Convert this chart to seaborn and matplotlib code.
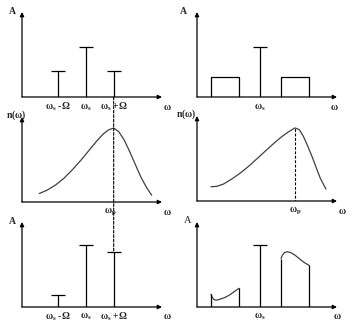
import matplotlib
matplotlib.use("Agg")
import matplotlib.pyplot as plt
from matplotlib.patches import ConnectionPatch
import seaborn as sns
import pandas as pd

sns.set_style("white")
plt.rcParams["font.family"] = ["Liberation Serif", "DejaVu Serif"]
plt.rcParams["mathtext.fontset"] = "custom"
plt.rcParams["mathtext.rm"] = "Liberation Serif:bold"
plt.rcParams["mathtext.it"] = "Liberation Serif:bold"
plt.rcParams["mathtext.bf"] = "Liberation Serif:bold"

# ---- data ----
w_s_left = 4.55
Omega = 2.0
am_freqs = [w_s_left - Omega, w_s_left, w_s_left + Omega]
am_amps = [0.31, 0.59, 0.31]
am_labels = [r"$\mathbf{\omega_s\ \text{-}\Omega}$", r"$\mathbf{\omega_s}$", r"$\mathbf{\omega_s\ \text{+}\Omega}$"]

w_s_right = 4.5
band_lo = [1.0, 3.0]
band_hi = [6.0, 8.0]
band_amp = 0.235
carrier_amp = 0.59

resp1_x = [1.24, 1.8, 2.4, 3.0, 3.6, 4.2, 4.8, 5.3, 5.8, 6.2, 6.55, 6.9, 7.3, 7.7, 8.1, 8.5, 8.9, 9.26]
resp1_y = [0.10, 0.14, 0.20, 0.28, 0.38, 0.49, 0.61, 0.71, 0.80, 0.85, 0.87, 0.83, 0.73, 0.59, 0.44, 0.29, 0.17, 0.08]
wp_left = 6.55

resp2_x = [1.0, 1.4, 1.9, 2.5, 3.1, 3.7, 4.3, 4.9, 5.5, 6.0, 6.5, 7.0, 7.3, 7.6, 7.9, 8.2, 8.5, 8.8, 9.21]
resp2_y = [0.168, 0.172, 0.20, 0.26, 0.33, 0.41, 0.50, 0.59, 0.68, 0.75, 0.81, 0.86, 0.84, 0.76, 0.65, 0.53, 0.40, 0.27, 0.14]
wp_right = 7.0

out_amps = [0.14, 0.73, 0.65]

lo_out_x = [1.0, 1.1, 1.2, 1.35, 1.5, 1.8, 2.1, 2.4, 2.7, 3.0]
lo_out_y = [0.15, 0.11, 0.09, 0.08, 0.085, 0.10, 0.12, 0.15, 0.185, 0.22]
hi_out_x = [6.0, 6.1, 6.25, 6.45, 6.7, 7.0, 7.3, 7.6, 8.0]
hi_out_y = [0.57, 0.61, 0.64, 0.65, 0.64, 0.61, 0.57, 0.53, 0.49]
carrier_out = 0.73

W, H = 363, 325
fig = plt.figure(figsize=(W / 100, H / 100), dpi=100)
fig.patch.set_facecolor("white")

FS = 7
CAP = 0.5
LW = 0.9
CURVE = "#404040"


def make_ax(ox, oy):
    ax = fig.add_axes([ox / W, (H - oy) / H, 140 / W, 85 / H])
    ax.set_xlim(0, 10)
    ax.set_ylim(0, 1)
    ax.axis("off")
    ax.patch.set_alpha(0)
    ax.annotate("", xy=(10, 0), xytext=(0, 0),
                arrowprops=dict(arrowstyle="-|>", lw=LW, color="black", mutation_scale=6,
                                shrinkA=0, shrinkB=0), annotation_clip=False)
    ax.annotate("", xy=(0, 1.0), xytext=(0, 0),
                arrowprops=dict(arrowstyle="-|>", lw=LW, color="black", mutation_scale=6,
                                shrinkA=0, shrinkB=0), annotation_clip=False)
    return ax


def txt(ax, x, y, s, ha="center", **kw):
    ax.text(x, y, s, ha=ha, va="center", fontsize=FS, fontweight="bold", clip_on=False, **kw)


def stems(ax, xs, ys):
    ax.vlines(xs, 0, ys, color="black", lw=LW)
    ax.hlines(ys, [x - CAP for x in xs], [x + CAP for x in xs], color="black", lw=LW)


def curve(ax, xs, ys):
    df = pd.DataFrame({"x": xs, "y": ys})
    sns.lineplot(data=df, x="x", y="y", ax=ax, color=CURVE, lw=0.9, sort=False)
    ax.set_xlim(0, 10); ax.set_ylim(0, 1); ax.axis("off")


# panel 1
ax1 = make_ax(22, 97)
stems(ax1, am_freqs, am_amps)
for f, lab in zip(am_freqs, am_labels):
    txt(ax1, f, -0.12, lab)
txt(ax1, -0.7, 1.0, "A")
txt(ax1, 10.35, -0.12, r"$\mathbf{\omega}$")

# panel 2
ax2 = make_ax(197, 97)
for lo, hi in [band_lo, band_hi]:
    ax2.plot([lo, lo, hi, hi], [0, band_amp, band_amp, 0], color="black", lw=LW)
stems(ax2, [w_s_right], [carrier_amp])
txt(ax2, w_s_right, -0.12, r"$\mathbf{\omega_s}$")
txt(ax2, -0.95, 1.0, "A")
txt(ax2, 9.8, -0.12, r"$\mathbf{\omega}$")

# panel 3
ax3 = make_ax(22, 202)
curve(ax3, resp1_x, resp1_y)
txt(ax3, 0.3, 1.02, r"$\mathbf{n(\omega)}$", ha="right")
txt(ax3, wp_left - 0.25, -0.12, r"$\mathbf{\omega_p}$")
txt(ax3, 10.35, -0.12, r"$\mathbf{\omega}$")

# panel 4
ax4 = make_ax(197, 201)
curve(ax4, resp2_x, resp2_y)
ax4.vlines([wp_right], -0.07, [max(resp2_y)], color="black", lw=0.8, linestyles=(0, (2.5, 1.5)))
txt(ax4, -0.05, 1.02, r"$\mathbf{n(\omega)}$", ha="right")
txt(ax4, wp_right, -0.12, r"$\mathbf{\omega_p}$")
txt(ax4, 10.35, -0.12, r"$\mathbf{\omega}$")

# panel 5
ax5 = make_ax(22, 307)
stems(ax5, am_freqs, out_amps)
for f, lab in zip(am_freqs, am_labels):
    txt(ax5, f, -0.11, lab)
txt(ax5, -0.7, 1.0, "A")
txt(ax5, 10.35, -0.11, r"$\mathbf{\omega}$")

# panel 6
ax6 = make_ax(197, 307)
for xs, ys in [(lo_out_x, lo_out_y), (hi_out_x, hi_out_y)]:
    curve(ax6, xs, ys)
    ax6.vlines([xs[0], xs[-1]], 0, [ys[0], ys[-1]], color="black", lw=LW)
stems(ax6, [w_s_right], [carrier_out])
txt(ax6, w_s_right, -0.11, r"$\mathbf{\omega_s}$")
ax6.text(-0.65, 1.02, "A", ha="center", va="center", fontsize=FS + 0.5, clip_on=False)
txt(ax6, 10.0, -0.11, r"$\mathbf{\omega}$")

# dashed connector through the three left panels
con = ConnectionPatch(xyA=(am_freqs[2], 0), coordsA=ax1.transData,
                      xyB=(am_freqs[2], out_amps[2]), coordsB=ax5.transData,
                      color="black", lw=0.8, linestyle=(0, (2.5, 1.5)))
fig.add_artist(con)

fig.savefig("out.png", dpi=100, facecolor="white")
